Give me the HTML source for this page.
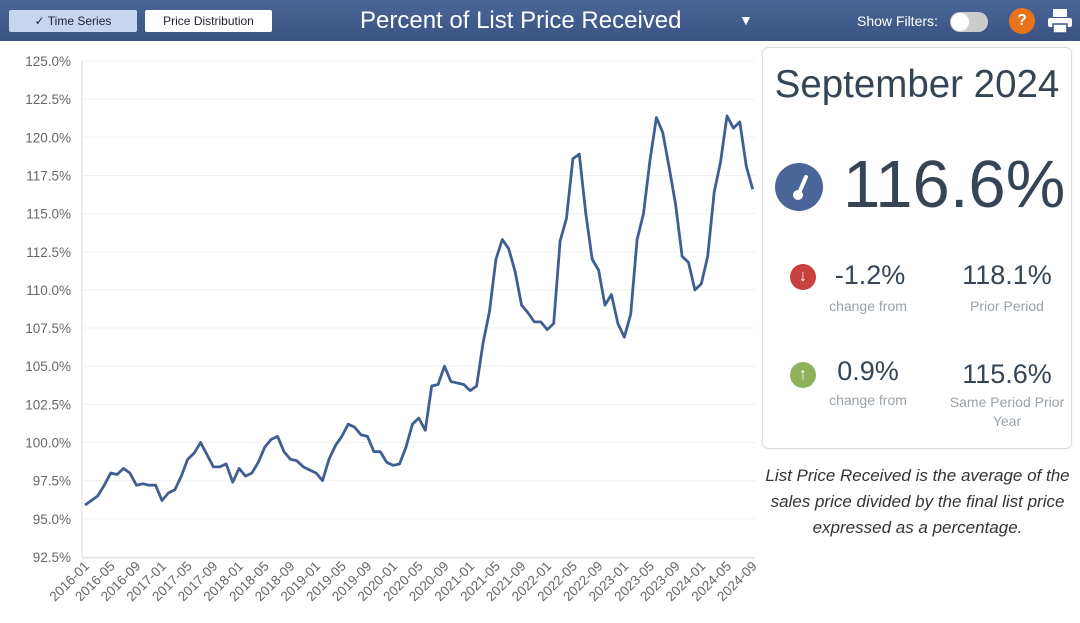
<!DOCTYPE html>
<html><head><meta charset="utf-8"><style>
body{margin:0;width:1080px;height:623px;background:#fff;font-family:"Liberation Sans",sans-serif;position:relative;overflow:hidden}
.a{position:absolute}
.hdr{left:0;top:0;width:1080px;height:41px;background:linear-gradient(#4a6597,#3b5384)}
.btn{top:10px;height:22px;border-radius:2px;font-size:12px;line-height:22px;text-align:center;color:#223}
.c{text-align:center;color:#354555}
.g{color:#9aa2aa;font-size:14px}
</style></head><body>
<div class="a hdr"></div>
<div class="a btn" style="left:9px;width:128px;background:#c5d6ee">✓ Time Series</div>
<div class="a btn" style="left:145px;width:127px;background:#fff">Price Distribution</div>
<div class="a" style="left:360px;top:7px;font-size:24px;color:#fff">Percent of List Price Received</div>
<div class="a" style="left:739px;top:12px;font-size:14px;color:#fff">▼</div>
<div class="a" style="left:857px;top:13px;font-size:14px;color:#fff">Show Filters:</div>
<div class="a" style="left:950px;top:12px;width:38px;height:20px;border-radius:10px;background:#ccc"><div class="a" style="left:1px;top:1px;width:18px;height:18px;border-radius:9px;background:#fff"></div></div>
<div class="a" style="left:1009px;top:8px;width:26px;height:26px;border-radius:13px;background:#e8731a;color:#fff;font-weight:bold;text-align:center;line-height:26px;font-size:16px">?</div>
<div class="a" style="left:1047px;top:8px;width:26px;height:26px">
<svg width="26" height="26"><rect x="6" y="1" width="14" height="8" fill="#fff"/><rect x="1" y="10" width="24" height="9" rx="2" fill="#fff"/><rect x="6" y="16" width="14" height="9" fill="#fff" stroke="#3b5384" stroke-width="1.5"/></svg></div>
<svg class="a" style="left:0;top:0" width="760" height="623" id="ch"></svg>
<div class="a" style="left:762px;top:47px;width:308px;height:400px;border:1px solid #ddd;border-radius:6px;box-shadow:0 0 2px #eee"></div>
<div class="a c" style="left:762px;top:63px;width:310px;font-size:38.5px">September 2024</div>
<div class="a" style="left:775px;top:163px;width:48px;height:48px;border-radius:24px;background:#4a6597">
<svg width="48" height="48"><line x1="24" y1="30" x2="31" y2="14" stroke="#fff" stroke-width="4" stroke-linecap="round"/><circle cx="23" cy="32" r="5" fill="#fff"/></svg></div>
<div class="a" style="left:843px;top:146px;font-size:67px;color:#354555">116.6%</div>
<div class="a" style="left:790px;top:264px;width:26px;height:26px;border-radius:13px;background:#c9413f;color:#fff;text-align:center;line-height:26px;font-weight:bold">↓</div>
<div class="a c" style="left:810px;top:260px;width:120px;font-size:27px">-1.2%</div>
<div class="a c g" style="left:808px;top:298px;width:120px">change from</div>
<div class="a c" style="left:942px;top:260px;width:130px;font-size:27px">118.1%</div>
<div class="a c g" style="left:942px;top:298px;width:130px">Prior Period</div>
<div class="a" style="left:790px;top:362px;width:26px;height:26px;border-radius:13px;background:#8eb25a;color:#fff;text-align:center;line-height:26px;font-weight:bold">↑</div>
<div class="a c" style="left:808px;top:356px;width:120px;font-size:27px">0.9%</div>
<div class="a c g" style="left:808px;top:392px;width:120px">change from</div>
<div class="a c" style="left:942px;top:359px;width:130px;font-size:27px">115.6%</div>
<div class="a c g" style="left:942px;top:393px;width:130px;line-height:19px">Same Period Prior Year</div>
<div class="a c" style="left:755px;top:463px;width:325px;font-size:17px;font-style:italic;color:#333;line-height:26px">List Price Received is the average of the sales price divided by the final list price expressed as a percentage.</div>
<script>
var v=[95.9,96.2,96.5,97.2,98.0,97.9,98.3,98.0,97.2,97.3,97.2,97.2,
96.2,96.7,96.9,97.8,98.9,99.3,100.0,99.2,98.4,98.4,98.6,97.4,
98.3,97.8,98.0,98.7,99.7,100.2,100.4,99.4,98.9,98.8,98.4,98.2,
98.0,97.5,98.9,99.8,100.4,101.2,101.0,100.5,100.4,99.4,99.4,98.7,
98.5,98.6,99.7,101.2,101.6,100.8,103.7,103.8,105.0,104.0,103.9,103.8,
103.4,103.7,106.5,108.6,112.0,113.3,112.7,111.2,109.0,108.5,107.9,107.9,
107.4,107.8,113.2,114.7,118.6,118.9,115.0,112.0,111.3,109.0,109.7,107.8,
106.9,108.4,113.3,115.0,118.5,121.3,120.3,118.0,115.6,112.2,111.8,110.0,
110.4,112.2,116.4,118.4,121.4,120.6,121.0,118.1,116.6];
var Y=function(p){return 61+(125-p)*15.26};
var X=function(i){return 85+i*6.42};
var s='';
for(var k=0;k<14;k++){var p=125-k*2.5,y=Y(p);
s+='<line x1="82" x2="755" y1="'+y+'" y2="'+y+'" stroke="#f0f0f0"/>';
s+='<text x="71" y="'+(y+5)+'" text-anchor="end" font-size="13.5" fill="#666" font-family="Liberation Sans">'+p.toFixed(1)+'%</text>';}
s+='<line x1="82" x2="82" y1="61" y2="558" stroke="#ddd"/><line x1="82" x2="755" y1="558" y2="558" stroke="#ddd"/>';
for(var i=0;i<105;i+=4){var yr=2016+Math.floor(i/12),m=i%12+1;var x=X(i)+5;
s+='<text transform="translate('+x+',567) rotate(-45)" text-anchor="end" font-size="13.5" fill="#666" font-family="Liberation Sans">'+yr+'-'+(m<10?'0':'')+m+'</text>';}
var pts=v.map(function(p,i){return X(i).toFixed(1)+','+Y(p).toFixed(1)}).join(' ');
s+='<polyline points="'+pts+'" fill="none" stroke="#3f5f93" stroke-width="2.8" stroke-linejoin="round"/>';
document.getElementById('ch').innerHTML=s;
</script>
</body></html>
